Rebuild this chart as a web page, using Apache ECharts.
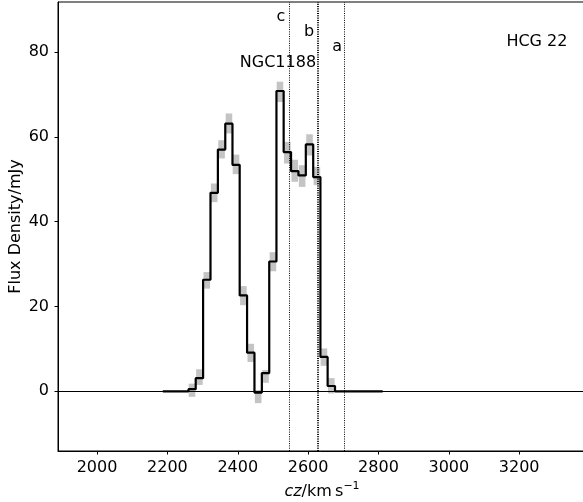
<!DOCTYPE html>
<html>
<head>
<meta charset="utf-8">
<script src="https://cdn.jsdelivr.net/npm/echarts@6/dist/echarts.min.js"></script>
<style>
html,body{margin:0;padding:0;background:#fff;}
#chart{width:583px;height:502px;}
</style>
</head>
<body>
<div id="chart"></div>
<script>
// Channel velocities (km/s) and flux density (mJy) of the black step spectrum
const velocity = [2187, 2208, 2229, 2250, 2270, 2291, 2312, 2333, 2354, 2375, 2395, 2416, 2437, 2458, 2479, 2500, 2520, 2541, 2562, 2583, 2604, 2625, 2645, 2666, 2687, 2708, 2729, 2750, 2770, 2791, 2812];
const flux = [0, 0, 0, 0, 0.5, 3.1, 26.3, 46.8, 57.0, 63.1, 53.4, 22.6, 9.1, -0.3, 4.3, 30.6, 70.8, 56.4, 51.9, 50.9, 58.2, 50.5, 8.1, 1.25, 0, 0, 0, 0, 0, 0, 0];

// Grey uncertainty boxes (upper / lower flux per channel)
const grayVelocity = [2270, 2291, 2312, 2333, 2354, 2375, 2395, 2416, 2437, 2458, 2479, 2500, 2520, 2541, 2562, 2583, 2604, 2625, 2645, 2666];
const grayHigh = [1.8, 5.2, 28.1, 49.0, 59.2, 65.5, 55.8, 24.8, 11.2, 0.3, 5.0, 32.8, 73.0, 58.8, 54.6, 53.3, 60.6, 52.9, 10.1, 3.1];
const grayLow = [-1.3, 1.5, 24.2, 44.6, 54.9, 60.8, 51.2, 20.3, 6.9, -2.8, 2.0, 28.3, 68.2, 53.7, 49.4, 48.2, 55.6, 48.6, 6.0, -0.5];
const channelWidth = 20.8;

// Vertical reference velocities
const refLines = [2545, 2625, 2629.5, 2704];

// Axis ticks
const xTicks = [2000, 2200, 2400, 2600, 2800, 3000, 3200];
const yTicks = [0, 20, 40, 60, 80];

// Text annotations (data coordinates)
const annotations = [
  {text: 'c', x: 2535, y: 88.4, align: 'right'},
  {text: 'b', x: 2617, y: 84.8, align: 'right'},
  {text: 'a', x: 2696.5, y: 81.1, align: 'right'},
  {text: 'NGC1188', x: 2622.7, y: 77.4, align: 'right'},
  {text: 'HCG 22', x: 3163.7, y: 82.5, align: 'left'}
];

const FONT = 'DejaVu Sans';
const chart = echarts.init(document.getElementById('chart'), null, {renderer: 'canvas'});

const grayData = grayVelocity.map((v, i) => [v, grayLow[i], grayHigh[i]]);

chart.setOption({
  animation: false,
  backgroundColor: '#fff',
  grid: {
    left: 58, top: 2, width: 528, height: 449,
    show: true, borderColor: '#000', borderWidth: 1,
    outerBoundsMode: 'none'
  },
  xAxis: {
    type: 'value', min: 1889, max: 3390,
    name: '{i|cz}/km\u2009s{sup|\u22121}',
    nameLocation: 'middle', nameGap: 29,
    nameTextStyle: {
      fontFamily: FONT, fontSize: 16, color: '#000',
      rich: {
        i: {fontFamily: FONT, fontSize: 16, fontStyle: 'italic', color: '#000'},
        sup: {fontFamily: FONT, fontSize: 11, color: '#000', verticalAlign: 'top', lineHeight: 22}
      }
    },
    axisLine: {show: true, onZero: false, lineStyle: {color: '#000', width: 1}},
    axisTick: {show: true, length: 3.5, customValues: xTicks, lineStyle: {color: '#000', width: 1}},
    axisLabel: {show: true, customValues: xTicks, margin: 9, fontFamily: FONT, fontSize: 16, color: '#000',
      formatter: v => String(v)},
    splitLine: {show: false}
  },
  yAxis: {
    type: 'value', min: -14.08, max: 91.79,
    name: 'Flux Density/mJy',
    nameLocation: 'middle', nameGap: 34, nameRotate: 90,
    nameMoveOverlap: false,
    nameTextStyle: {fontFamily: FONT, fontSize: 16, color: '#000'},
    axisLine: {show: true, onZero: false, lineStyle: {color: '#000', width: 1}},
    axisTick: {show: true, length: 3.5, customValues: yTicks, lineStyle: {color: '#000', width: 1}},
    axisLabel: {show: true, customValues: yTicks, margin: 9, fontFamily: FONT, fontSize: 16, color: '#000',
      formatter: v => String(v)},
    splitLine: {show: false}
  },
  series: [
    {
      type: 'custom',
      z: 1,
      silent: true,
      data: grayData,
      renderItem: function (params, api) {
        const v = api.value(0);
        const lo = api.coord([v, api.value(1)]);
        const hi = api.coord([v, api.value(2)]);
        const w = api.size([channelWidth * 0.9, 0])[0];
        return {
          type: 'rect',
          shape: {x: lo[0] - w / 2, y: hi[1], width: w, height: lo[1] - hi[1]},
          style: {fill: '#c4c4c4'}
        };
      }
    },
    {
      type: 'line',
      z: 3,
      step: 'middle',
      symbol: 'none',
      silent: true,
      data: velocity.map((v, i) => [v, flux[i]]),
      lineStyle: {color: '#000', width: 2.2},
      markLine: {
        silent: true,
        symbol: ['none', 'none'],
        label: {show: false},
        data: [
          {yAxis: 0, lineStyle: {color: '#000', width: 1, type: 'solid'}}
        ].concat(refLines.map(v => ({xAxis: v, lineStyle: {color: '#000', width: 1, type: [1, 1.3]}})))
      }
    },
    {
      type: 'scatter',
      z: 5,
      silent: true,
      symbolSize: 0,
      itemStyle: {color: '#000', opacity: 1},
      data: annotations.map(a => ({
        value: [a.x, a.y],
        label: {
          show: true, position: [0, 0], formatter: a.text,
          align: a.align, verticalAlign: 'middle',
          fontFamily: FONT, fontSize: 16, color: '#000', opacity: 1
        }
      }))
    }
  ]
});
</script>
</body>
</html>
